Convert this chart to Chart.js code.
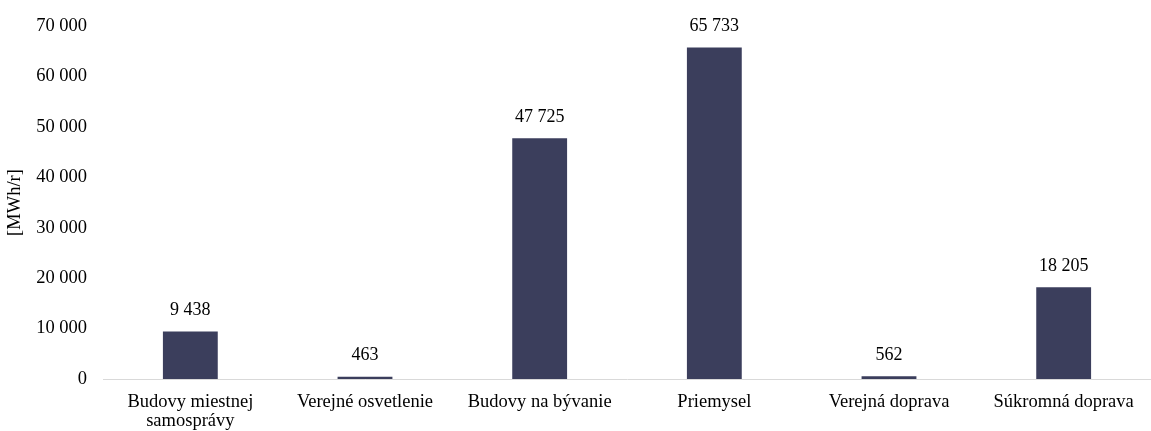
<!DOCTYPE html>
<html>
<head>
<meta charset="utf-8">
<script src="https://cdn.jsdelivr.net/npm/chart.js@4/dist/chart.umd.min.js"></script>
<style>
html,body{margin:0;padding:0;background:#fff;}
#wrap{width:1151px;height:431px;position:relative;}
</style>
</head>
<body>
<div id="wrap"><canvas id="c"></canvas></div>
<script>
const categories = [["Budovy miestnej","samosprávy"],"Verejné osvetlenie","Budovy na bývanie","Priemysel","Verejná doprava","Súkromná doprava"];
const values = [9438, 463, 47725, 65733, 562, 18205];
const yTicks = [0,10000,20000,30000,40000,50000,60000,70000];
const yTitle = "[MWh/r]";

const fmt = v => String(v).replace(/\B(?=(\d{3})+(?!\d))/g, " ");
const FONT = "'Liberation Serif', 'Times New Roman', serif";

const dataLabels = {
  id: 'dataLabels',
  afterDatasetsDraw(chart) {
    const ctx = chart.ctx;
    const meta = chart.getDatasetMeta(0);
    ctx.save();
    ctx.font = "18px " + FONT;
    ctx.fillStyle = "#000";
    ctx.textAlign = "center";
    ctx.textBaseline = "middle";
    meta.data.forEach((bar, i) => {
      ctx.fillText(fmt(values[i]), bar.x, bar.y - 21);
    });
    ctx.restore();
  }
};

new Chart(document.getElementById('c'), {
  type: 'bar',
  data: {
    labels: categories,
    datasets: [{
      data: values,
      backgroundColor: '#3b3e5c',
      borderWidth: 0,
      categoryPercentage: 1,
      barPercentage: 0.314
    }]
  },
  options: {
    responsive: true,
    maintainAspectRatio: false,
    animation: false,
    layout: { padding: { top: 26, right: 0, left: 0, bottom: 0 } },
    plugins: { legend: { display: false }, tooltip: { enabled: false } },
    scales: {
      x: {
        grid: { display: false },
        border: { display: true, color: '#d9d9d9', width: 1 },
        ticks: { color: '#000', font: { family: FONT, size: 18.5, lineHeight: 1.03 }, padding: 6, maxRotation: 0, autoSkip: false },
        afterFit: s => { s.height = 52; }
      },
      y: {
        min: 0, max: 70000,
        afterBuildTicks: s => { s.ticks = yTicks.map(v => ({ value: v })); },
        grid: { display: false },
        border: { display: false },
        ticks: { color: '#000', font: { family: FONT, size: 18.5 }, padding: 8, callback: v => fmt(v) },
        title: { display: true, text: yTitle, color: '#000', font: { family: FONT, size: 18.5 }, padding: { top: 4, bottom: 0 } },
        afterFit: s => { s.width = 103; }
      }
    }
  },
  plugins: [dataLabels]
});
</script>
</body>
</html>
